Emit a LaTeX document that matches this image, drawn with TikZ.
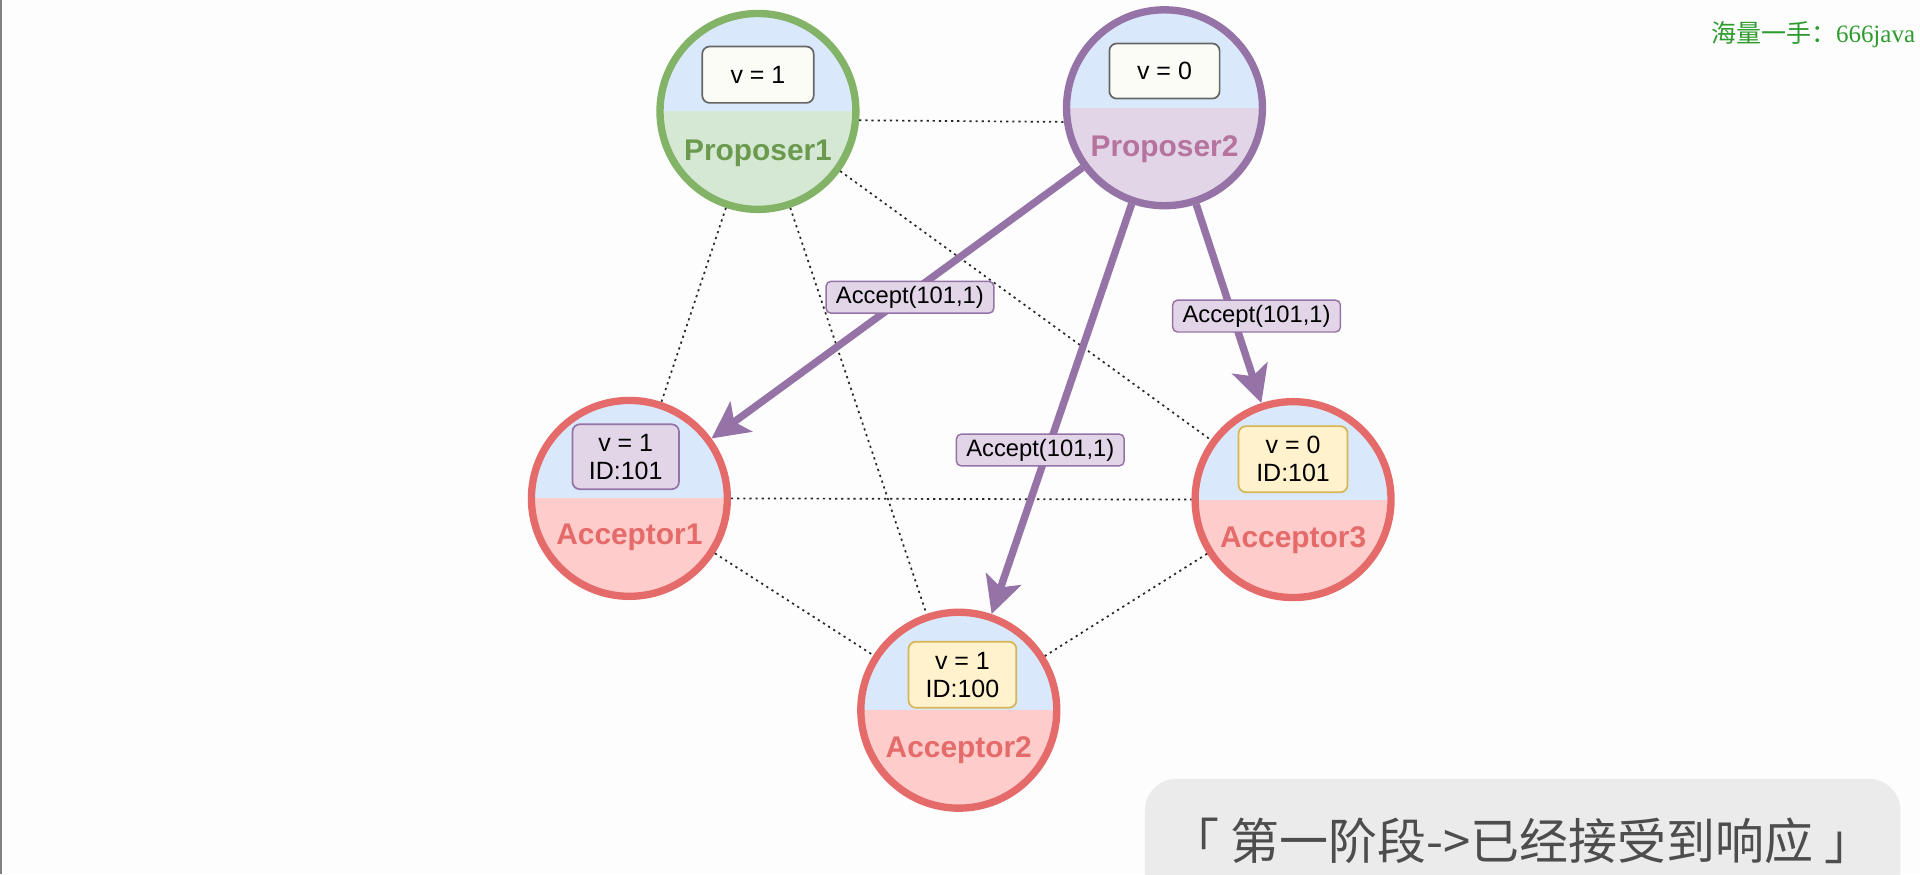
\documentclass[tikz,border=0pt]{standalone}
\usepackage{fontspec}
\setmainfont{Liberation Sans}
\newfontfamily\cjk{Noto Sans CJK SC}
\newfontfamily\wmserif{Liberation Serif}
\usetikzlibrary{arrows.meta,calc}
\definecolor{topblue}{HTML}{DAE8FC}
\definecolor{pgfill}{HTML}{D5E8D4}
\definecolor{pgline}{HTML}{82B366}
\definecolor{pgtext}{HTML}{6B9A4F}
\definecolor{ppfill}{HTML}{E1D5E7}
\definecolor{ppline}{HTML}{9673A6}
\definecolor{pptext}{HTML}{B5739D}
\definecolor{arfill}{HTML}{FFCCCC}
\definecolor{arline}{HTML}{E46B69}
\definecolor{artext}{HTML}{E46B69}
\definecolor{yfill}{HTML}{FFF2CC}
\definecolor{yline}{HTML}{D6B656}
\definecolor{wfill}{HTML}{FCFCF7}
\definecolor{wline}{HTML}{666666}
\definecolor{capbg}{HTML}{EBEBEB}
\definecolor{captext}{HTML}{4D4D4D}
\definecolor{wmgreen}{HTML}{2E9B2E}
\definecolor{bgc}{HTML}{FDFDFD}
\tikzset{
  halfnode/.style n args={2}{circle, minimum size=80pt, inner sep=0pt, line width=3pt, draw=#1,
    path picture={\fill[topblue] (path picture bounding box.north west) rectangle (path picture bounding box.east);
                  \fill[#2] (path picture bounding box.west) rectangle (path picture bounding box.south east);}},
  namelbl/.style={font=\fontsize{12.2}{14}\selectfont\bfseries, text=#1, inner sep=0pt},
  valbox/.style n args={2}{draw=#1, fill=#2, line width=0.7pt, rounded corners=3pt, align=center,
    font=\fontsize{10.2}{11.5}\selectfont, inner sep=0pt},
  msglbl/.style={draw=ppline, fill=ppfill, line width=0.6pt, rounded corners=2pt, inner sep=0pt,
    minimum width=68.5pt, minimum height=13pt, font=\fontsize{9.7}{11}\selectfont},
  dotline/.style={black!85, line width=0.7pt, dash pattern=on 0.9pt off 1.6pt},
  msgarrow/.style={ppline, line width=3pt, -{Stealth[length=15pt, width=15pt, inset=3.5pt]}}
}
\begin{document}
\begin{tikzpicture}[x=0.5pt, y=-0.5pt]
\useasboundingbox (0,0) rectangle (1568,714);
\fill[bgc] (0,0) rectangle (1568,714);
\draw[gray, line width=0.8pt] (0.8,0) -- (0.8,714);

% nodes
\node[halfnode={pgline}{pgfill}] (P1) at (619,91) {};
\node[halfnode={ppline}{ppfill}] (P2) at (951,88) {};
\node[halfnode={arline}{arfill}] (A1) at (514,407) {};
\node[halfnode={arline}{arfill}] (A2) at (783,580) {};
\node[halfnode={arline}{arfill}] (A3) at (1056,408) {};

\node[namelbl=pgtext] (P1n) at ($(P1)+(0,34)$) {Proposer1};
\node[namelbl=pptext] (P2n) at ($(P2)+(0,34)$) {Proposer2};
\node[namelbl=artext] (A1n) at ($(A1)+(0,32)$) {Acceptor1};
\node[namelbl=artext] (A2n) at ($(A2)+(0,33)$) {Acceptor2};
\node[namelbl=artext] (A3n) at ($(A3)+(0,33)$) {Acceptor3};

\node[valbox={wline}{wfill}, minimum width=45.5pt, minimum height=23pt] (P1v) at ($(P1)+(0,-30)$) {v = 1};
\node[valbox={wline}{wfill}, minimum width=45pt, minimum height=22.5pt] (P2v) at ($(P2)+(0,-30)$) {v = 0};
\node[valbox={ppline}{ppfill}, minimum width=43.5pt, minimum height=26.5pt] (A1v) at ($(A1)+(-3,-34)$) {v = 1\\ID:101};
\node[valbox={yline}{yfill}, minimum width=44pt, minimum height=27pt] (A2v) at ($(A2)+(3,-29)$) {v = 1\\ID:100};
\node[valbox={yline}{yfill}, minimum width=44.5pt, minimum height=27pt] (A3v) at ($(A3)+(0,-33)$) {v = 0\\ID:101};

% dotted links
\draw[dotline] (P1.-5.5) -- (P2.-172.4);
\draw[dotline] (P1) -- (A1);
\draw[dotline] (P1) -- (A2);
\draw[dotline] (P1) -- (A3);
\draw[dotline] (A1.0) -- (A3.180);
\draw[dotline] (A1) -- (A2);
\draw[dotline] (A3) -- (A2);

% arrows
\draw[msgarrow] (P2) -- (A1) node[msglbl, pos=0.465, yshift=-1.5pt, text=black] (L1) {Accept(101,1)};
\draw[msgarrow] (P2) -- (A2) node[msglbl, pos=0.60, xshift=-3pt, text=black] (L2) {Accept(101,1)};
\draw[msgarrow] (P2) -- (A3) node[msglbl, pos=0.55, xshift=10pt, yshift=-1pt, text=black] (L3) {Accept(101,1)};

% caption
\fill[capbg, rounded corners=13pt] (935,636) rectangle (1552,760);
\node[text=captext, font=\cjk\fontsize{20}{22}\selectfont, inner sep=0pt] (cap) at (1243,687) {「 第一阶段->已经接受到响应 」};

% watermark
\node[anchor=base west, text=wmgreen, font=\fontsize{10.2}{12}\selectfont, inner sep=0pt] (wm) at (1397,35) {\cjk 海量一手：\wmserif 666java};
\end{tikzpicture}
\end{document}
